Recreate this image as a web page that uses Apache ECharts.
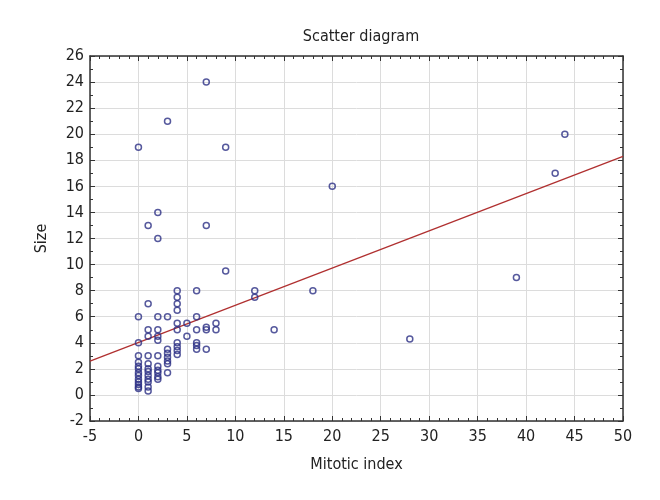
<!DOCTYPE html>
<html><head><meta charset="utf-8">
<script src="https://cdn.jsdelivr.net/npm/echarts@6/dist/echarts.min.js"></script>
<style>html,body{margin:0;padding:0;background:#fff}#c{width:660px;height:500px}</style>
</head><body><div id="c"></div>
<script>
var mitoticIndex = [
  0,0,0,0,0,0,0,0,0,0,0,0,0,0,
  1,1,1,1,1,1,1,1,1,1,1,1,1,
  2,2,2,2,2,2,2,2,2,2,2,2,
  3,3,3,3,3,3,3,3,
  4,4,4,4,4,4,4,4,4,4,
  5,5,
  6,6,6,6,6,6,
  7,7,7,7,7,
  8,8,
  9,9,
  12,12,
  14,18,20,28,39,43,44
];
var size = [
  19,6,4,3,2.5,2.2,2,1.7,1.5,1.2,1,0.8,0.6,0.5,
  13,7,5,4.5,3,2.4,2,1.8,1.5,1.2,1,0.6,0.3,
  14,12,6,5,4.5,4.2,3,2.2,1.9,1.7,1.4,1.2,
  21,6,3.5,3.2,2.9,2.6,2.4,1.7,
  8,7.5,7,6.5,5.5,5,4,3.7,3.4,3.1,
  5.5,4.5,
  8,6,5,4,3.8,3.5,
  24,13,5.2,5,3.5,
  5.5,5,
  19,9.5,
  8,7.5,
  5,8,16,4.3,9,17,20
];
var fitX = [-5, 50];
var fitY = [2.6, 18.3];
var xTicks = {min: -5, max: 50, interval: 5};
var yTicks = {min: -2, max: 26, interval: 2};

var pts = mitoticIndex.map(function(x, i){ return [x, size[i]]; });
var fit = fitX.map(function(x, i){ return [x, fitY[i]]; });
var font = '"Liberation Sans Narrow","DejaVu Sans Condensed",sans-serif';
var axisCol = '#333';
function mkX(pos, show){
  return {type:'value', position:pos, min:xTicks.min, max:xTicks.max, interval:xTicks.interval,
    name: show ? 'Mitotic index' : '', nameLocation:'middle', nameGap:36,
    nameTextStyle:{fontFamily:font, fontSize:16, color:'#222'},
    axisLine:{show:true, onZero:false, lineStyle:{color:axisCol, width:1.5}},
    axisTick:{show:true, inside:true, length:5, lineStyle:{color:axisCol}},
    minorTick:{show:true, splitNumber:5, length:3, lineStyle:{color:axisCol}},
    axisLabel:{show:show, fontFamily:font, fontSize:16, color:'#222', margin:8},
    splitLine:{show:show, lineStyle:{color:'#dcdcdc'}}};
}
function mkY(pos, show){
  return {type:'value', position:pos, min:yTicks.min, max:yTicks.max, interval:yTicks.interval,
    name: show ? 'Size' : '', nameLocation:'middle', nameGap:40,
    nameTextStyle:{fontFamily:font, fontSize:16, color:'#222'},
    axisLine:{show:true, onZero:false, lineStyle:{color:axisCol, width:1.5}},
    axisTick:{show:true, inside:true, length:5, lineStyle:{color:axisCol}},
    minorTick:{show:true, splitNumber:2, length:3, lineStyle:{color:axisCol}},
    axisLabel:{show:show, fontFamily:font, fontSize:16, color:'#222', margin:6},
    splitLine:{show:show, lineStyle:{color:'#dcdcdc'}}};
}
var chart = echarts.init(document.getElementById('c'), null, {renderer:'canvas'});
chart.setOption({
  animation:false,
  title:{text:'Scatter diagram', left:356, top:24, textAlign:'center',
    textStyle:{fontFamily:font, fontSize:16, fontWeight:'normal', color:'#222'}},
  grid:{left:90, right:37, top:56, bottom:79},
  xAxis:[mkX('bottom', true), mkX('top', false)],
  yAxis:[mkY('left', true), mkY('right', false)],
  series:[
    {type:'line', data:fit, symbol:'none', lineStyle:{color:'#b03030', width:1.3}, z:2},
    {type:'scatter', data:pts, symbol:'circle', symbolSize:6,
      itemStyle:{color:'rgba(0,0,0,0)', borderColor:'#2c2f85', borderWidth:1.5}, z:3}
  ]
});
</script></body></html>
